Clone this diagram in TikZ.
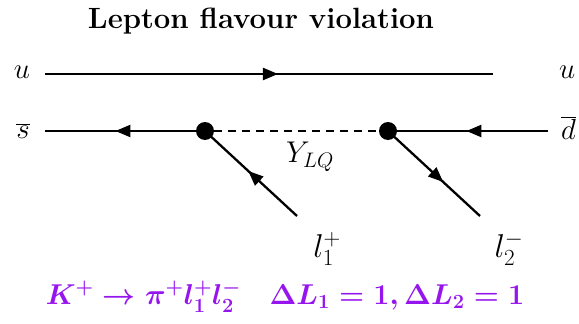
\RequirePackage{fix-cm}
\documentclass[tikz,border=0pt]{standalone}
\usetikzlibrary{arrows.meta,decorations.markings}
\definecolor{lfvpurple}{RGB}{150,20,238}
\tikzset{
  x=1pt,y=-1pt,
  fermion/.style={line width=2.3pt,postaction={decorate},decoration={markings,mark=at position #1 with {\arrow{Triangle[length=15pt,width=12pt]}}}},
  scalar/.style={line width=2.3pt,dash pattern=on 8pt off 6pt},
  vtx/.style={circle,fill=black,inner sep=0pt,minimum size=18pt},
  lbl/.style={inner sep=0pt,font=\fontsize{29}{33}\selectfont},
  lepl/.style={inner sep=0pt,font=\fontsize{33}{37}\selectfont},
}
\begin{document}
\begin{tikzpicture}
\useasboundingbox (0,0) rectangle (579,324);
\fill[white] (0,0) rectangle (579,324);
\node[inner sep=0pt,anchor=base,font=\fontsize{29.3}{34}\selectfont\bfseries] (title) at (261,28) {Lepton flavour violation};
\coordinate (uL) at (45,74);
\coordinate (uR) at (493,74);
\coordinate (sL) at (45,131);
\coordinate (dR) at (548,131);
\coordinate (l1) at (297,216);
\coordinate (l2) at (480,216);
\node[vtx] (v1) at (205,131) {};
\node[vtx] (v2) at (388,131) {};
\draw[fermion=0.52] (uL) -- (uR);
\draw[fermion=0.56] (v1.center) -- (sL);
\draw[fermion=0.51] (dR) -- (v2.center);
\draw[fermion=0.53] (l1) -- (v1.center);
\draw[fermion=0.6] (v2.center) -- (l2);
\draw[scalar] (v1) -- (v2);
\node[lbl] (lu) at (22,72) {$u$};
\node[lbl,anchor=west] (lub) at (559,72) {$u$};
\node[lbl] (ls) at (23,131) {$\overline{s}$};
\node[lbl,anchor=west] (ld) at (561,128) {$\overline{d}$};
\node[lbl,font=\fontsize{30}{34}\selectfont] (ly) at (310,157) {$Y_{LQ}$};
\node[lepl] (ll1) at (327,249) {$l_1^+$};
\node[lepl] (ll2) at (509,249) {$l_2^-$};
\node[inner sep=0pt,anchor=base,text=lfvpurple,font=\fontsize{28.7}{33}\selectfont\boldmath] (eq) at (285,304) {$K^+\to\pi^+l_1^+l_2^-\quad \mathbf{\Delta} L_1=1,\mathbf{\Delta} L_2=1$};
\end{tikzpicture}
\end{document}
